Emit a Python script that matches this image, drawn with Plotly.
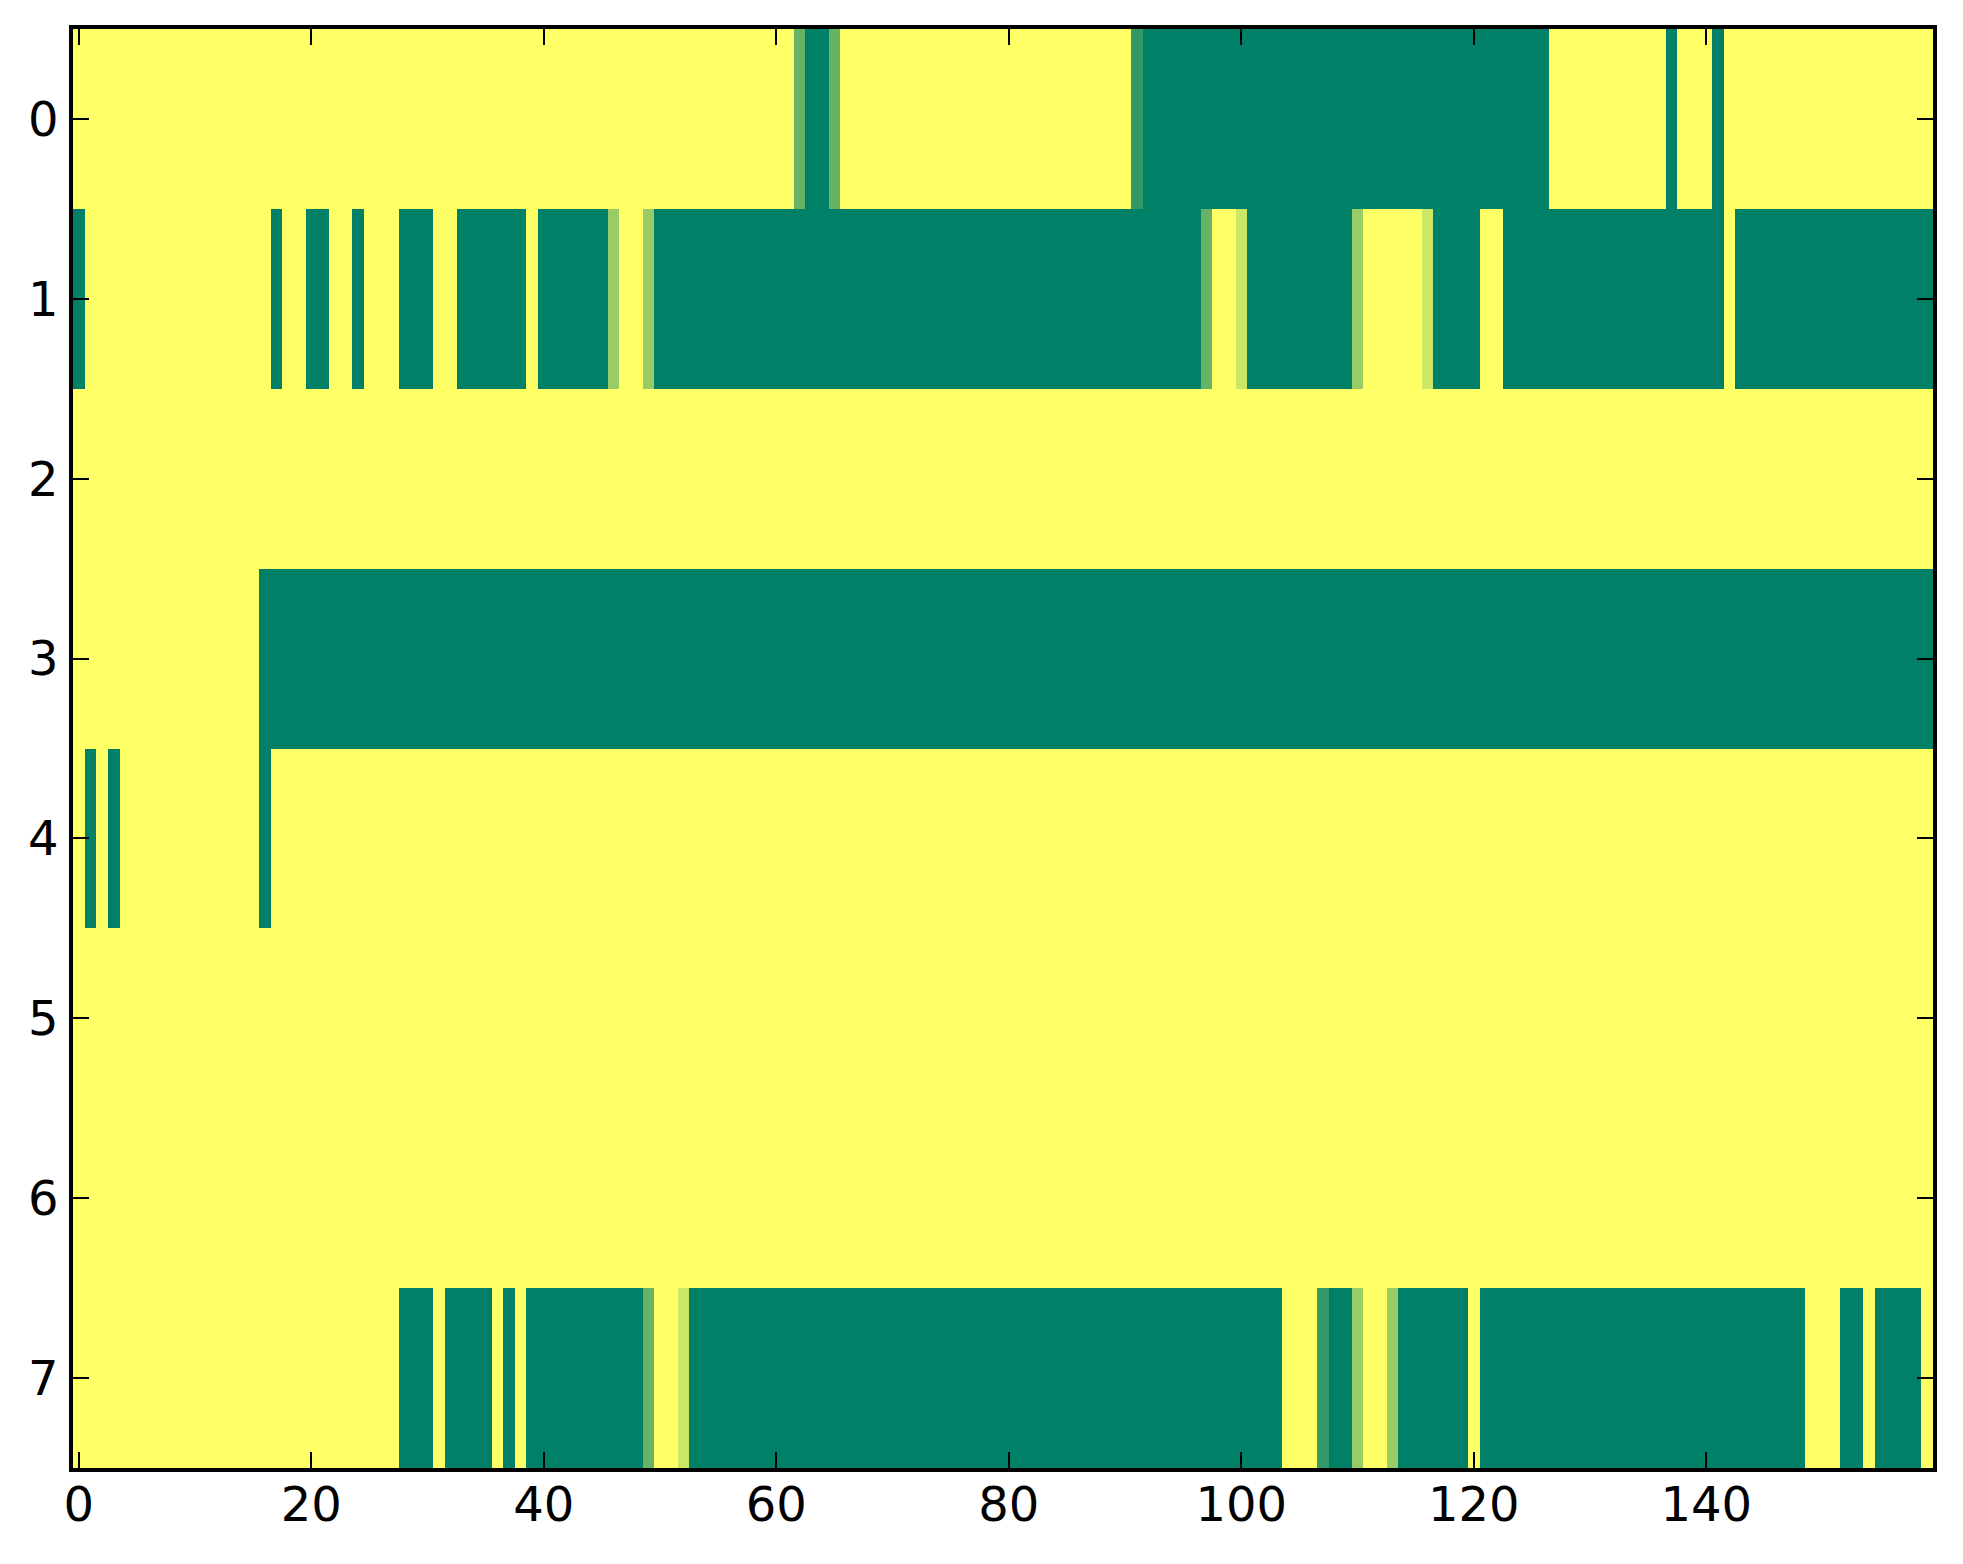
import plotly.graph_objects as go

# Valores, por fila: (valor, número de columnas seguidas)
fila_0 = [(1, 62), (0.4, 1), (0, 2), (0.4, 1), (1, 25), (0.2, 1), (0, 35),
          (1, 10), (0, 1), (1, 3), (0, 1), (1, 18)]
fila_1 = [(0, 1), (1, 16), (0, 1), (1, 2), (0, 2), (1, 2), (0, 1), (1, 3),
          (0, 3), (1, 2), (0, 6), (1, 1), (0, 6), (0.6, 1), (1, 2), (0.6, 1),
          (0, 47), (0.4, 1), (1, 2), (0.8, 1), (0, 9), (0.6, 1), (1, 5),
          (0.8, 1), (0, 4), (1, 2), (0, 19), (1, 1), (0, 17)]
fila_2 = [(1, 160)]
fila_3 = [(1, 16), (0, 144)]
fila_4 = [(1, 1), (0, 1), (1, 1), (0, 1), (1, 12), (0, 1), (1, 143)]
fila_5 = [(1, 160)]
fila_6 = [(1, 160)]
fila_7 = [(1, 28), (0, 3), (1, 1), (0, 4), (1, 1), (0, 1), (1, 1), (0, 10),
          (0.4, 1), (1, 2), (0.8, 1), (0, 51), (1, 3), (0.2, 1), (0, 2),
          (0.6, 1), (1, 2), (0.6, 1), (0, 6), (1, 1), (0, 28), (1, 3), (0, 2),
          (1, 1), (0, 4), (1, 1)]

filas = [fila_0, fila_1, fila_2, fila_3, fila_4, fila_5, fila_6, fila_7]
x_ticks = [0, 20, 40, 60, 80, 100, 120, 140]
y_ticks = [0, 1, 2, 3, 4, 5, 6, 7]


def expandir(tramos):
    valores = []
    for valor, n in tramos:
        valores.extend([valor] * n)
    return valores


z = [expandir(f) for f in filas]

# Mapa de color "summer" de matplotlib
summer = [[0, "rgb(0,128,102)"], [1, "rgb(255,255,102)"]]

fig = go.Figure(go.Heatmap(
    z=z,
    colorscale=summer,
    zmin=0,
    zmax=1,
    showscale=False,
))

ejes = dict(
    showline=True,
    linecolor="black",
    linewidth=3.5,
    mirror="ticks",
    ticks="inside",
    ticklen=16,
    tickwidth=2,
    tickcolor="black",
    showgrid=False,
    zeroline=False,
    tickfont=dict(family="DejaVu Sans", size=48, color="black"),
)

fig.update_xaxes(range=[-0.5, 159.5], tickvals=x_ticks, ticklabelstandoff=-8, **ejes)
fig.update_yaxes(range=[7.5, -0.5], tickvals=y_ticks, ticklabelstandoff=1, **ejes)

# La página tiene 8 px de margen, por eso se compensan aquí
fig.update_layout(
    width=1963,
    height=1564,
    margin=dict(l=65, r=38, t=21, b=104),
    paper_bgcolor="white",
    plot_bgcolor="white",
)

fig.write_html("out.html")
